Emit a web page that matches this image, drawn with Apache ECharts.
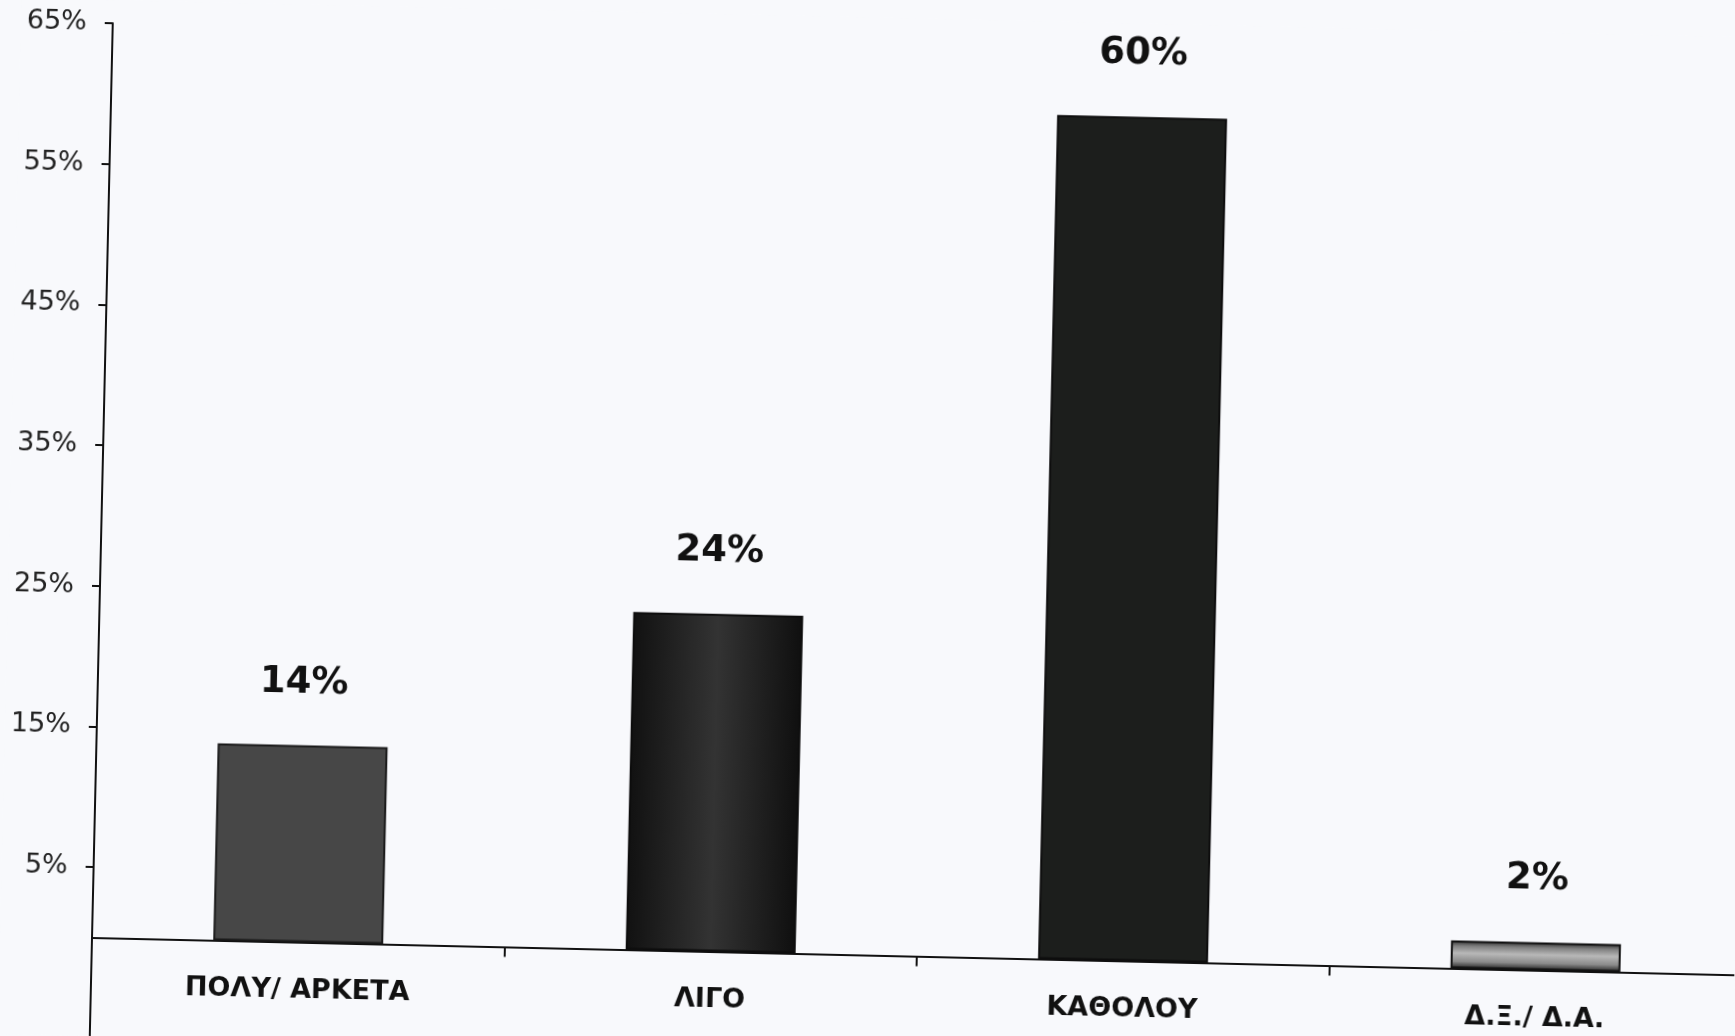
<!DOCTYPE html>
<html>
<head>
<meta charset="utf-8">
<script src="https://cdn.jsdelivr.net/npm/echarts@6/dist/echarts.min.js"></script>
<style>
html,body{margin:0;padding:0;background:#f8f9fc;overflow:hidden;}
#c{width:1735px;height:1036px;transform:rotate(1.3deg);transform-origin:92px 938px;}
</style>
</head>
<body>
<div id="c"></div>
<script>
const categories = ['ΠΟΛΥ/ ΑΡΚΕΤΑ', 'ΛΙΓΟ', 'ΚΑΘΟΛΟΥ', 'Δ.Ξ./ Δ.Α.'];
const values = [14, 24, 60, 2];
const yTickValues = [5, 15, 25, 35, 45, 55, 65];

const GRID_TOP = 23, GRID_BOTTOM = 0, Y_MIN = -7, Y_MAX = 65;
const plotH = 1036 - GRID_TOP - GRID_BOTTOM;
const zeroOffset = -plotH * (0 - Y_MIN) / (Y_MAX - Y_MIN);

const barStyles = [
  { color: '#474747', borderColor: '#1a1a1a', borderWidth: 2 },
  { color: { type: 'linear', x: 0, y: 0, x2: 1, y2: 0, colorStops: [
      { offset: 0, color: '#111111' }, { offset: 0.5, color: '#333333' }, { offset: 1, color: '#0f0f0f' } ] },
    borderColor: '#0d0d0d', borderWidth: 2 },
  { color: '#1c1e1c', borderColor: '#0d0d0d', borderWidth: 2 },
  { color: { type: 'linear', x: 0, y: 0, x2: 0, y2: 1, colorStops: [
      { offset: 0, color: '#2a2a2a' }, { offset: 0.2, color: '#808080' }, { offset: 0.45, color: '#b8b8b8' },
      { offset: 0.75, color: '#8a8a8a' }, { offset: 1, color: '#1e1e1e' } ] },
    borderColor: '#111111', borderWidth: 2 }
];

const chart = echarts.init(document.getElementById('c'));
chart.setOption({
  backgroundColor: '#f8f9fc',
  animation: false,
  grid: { left: 92, top: GRID_TOP, width: 1650, bottom: GRID_BOTTOM, containLabel: false, outerBoundsMode: 'none' },
  xAxis: {
    type: 'category',
    data: categories,
    offset: zeroOffset,
    axisLine: { onZero: false, lineStyle: { color: '#111', width: 2 } },
    axisTick: { show: true, length: 10, lineStyle: { color: '#111', width: 2 } },
    axisLabel: { margin: 35, fontFamily: 'DejaVu Sans', fontWeight: 'bold', fontSize: 27, color: '#111' }
  },
  yAxis: {
    type: 'value',
    min: Y_MIN,
    max: Y_MAX,
    splitLine: { show: false },
    axisLine: { show: true, lineStyle: { color: '#111', width: 2 } },
    axisTick: { show: true, length: 8, customValues: yTickValues, lineStyle: { color: '#111', width: 2 } },
    axisLabel: { customValues: yTickValues, margin: 26, fontFamily: 'DejaVu Sans', fontSize: 27, color: '#222',
      formatter: v => v + '%' }
  },
  series: [{
    type: 'bar',
    barWidth: 170,
    data: values.map((v, i) => ({ value: v, itemStyle: barStyles[i] })),
    label: {
      show: true, position: 'top', distance: 44,
      fontFamily: 'DejaVu Sans', fontWeight: 'bold', fontSize: 37, color: '#111',
      formatter: p => p.value + '%'
    }
  }]
});
</script>
</body>
</html>
